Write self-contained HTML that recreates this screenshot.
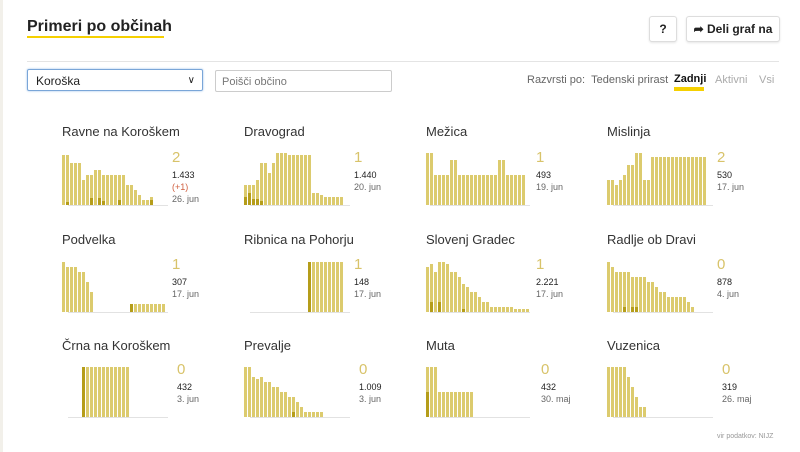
<!DOCTYPE html><html><head><meta charset="utf-8"><style>
body{margin:0;width:800px;height:452px;background:#fff;font-family:"Liberation Sans",sans-serif;overflow:hidden;position:relative}
.a{position:absolute}
.t{font-size:13px;color:#333}
.big{font-size:15px;color:#d8c36a}
.v{font-size:9px;color:#222}
.d{font-size:9px;color:#666}
.btn{border:1px solid #ddd;border-radius:3px;background:#fff;font-size:12px;font-weight:bold;color:#222;box-shadow:0 1px 2px rgba(0,0,0,.1)}
</style></head><body>
<div class="a" style="left:0;top:0;width:3px;height:452px;background:#f2f0ea"></div>
<div class="a" style="left:27px;top:18px;font-size:16px;font-weight:bold;color:#222">Primeri po občinah</div>
<div class="a" style="left:27px;top:36px;width:137px;height:2px;background:#f5d000"></div>
<div class="a btn" style="left:649px;top:16px;width:26px;height:24px;line-height:24px;text-align:center">?</div>
<div class="a btn" style="left:686px;top:16px;width:92px;height:24px;line-height:24px;text-align:center">➦ Deli graf na</div>
<div class="a" style="left:27px;top:61px;width:752px;height:1px;background:#e4e4e4"></div>
<div class="a" style="left:27px;top:69px;width:174px;height:22px;border:1px solid #7aa6d8;border-radius:2px;box-shadow:0 0 2px #9cc0ea;font-size:12px;line-height:22px;padding-left:8px;box-sizing:border-box;width:176px;color:#222">Koroška<span style="position:absolute;right:7px;font-size:10px">&#8744;</span></div>
<div class="a" style="left:215px;top:70px;width:177px;height:22px;border:1px solid #ccc;border-radius:2px;font-size:11px;line-height:22px;padding-left:6px;box-sizing:border-box;color:#777">Poišči občino</div>
<div class="a" style="left:527px;top:74px;font-size:11px;color:#666">Razvrsti po: &nbsp;Tedenski prirast</div>
<div class="a" style="left:674px;top:73px;font-size:11px;font-weight:bold;color:#111">Zadnji</div>
<div class="a" style="left:674px;top:87px;width:30px;height:4px;background:#f5d000"></div>
<div class="a" style="left:715px;top:74px;font-size:11px;color:#aaa">Aktivni</div>
<div class="a" style="left:759px;top:74px;font-size:11px;color:#aaa">Vsi</div>
<div class="a" style="left:717px;top:433px;font-size:7px;color:#999">vir podatkov: NIJZ</div>
<div id="c"></div>
<script>
var D=[
["Ravne na Koroškem","2","1.433","26. jun",[50,50,42,42,42,25,30,30,35,35,30,30,30,30,30,30,20,20,15,10,5,5,8],[0,3,0,0,0,0,0,7,0,7,4,0,0,0,5,0,0,0,0,0,0,0,5]],
["Dravograd","1","1.440","20. jun",[20,20,20,25,42,42,32,42,52,52,52,50,50,50,50,50,50,12,12,10,8,8,8,8,8],[8,12,6,6,4,0,0,0,0,0,0,0,0,0,0,0,0,0,0,0,0,0,0,0,0]],
["Mežica","1","493","19. jun",[52,52,30,30,30,30,45,45,30,30,30,30,30,30,30,30,30,30,45,45,30,30,30,30,30],[0,0,0,0,0,0,0,0,0,0,0,0,0,0,0,0,0,0,0,0,0,0,0,0,0]],
["Mislinja","2","530","17. jun",[25,25,20,25,30,40,40,52,52,25,25,48,48,48,48,48,48,48,48,48,48,48,48,48,48],[0,0,0,0,0,0,0,0,0,0,0,0,0,0,0,0,0,0,0,0,0,0,0,0,0]],
["Podvelka","1","307","17. jun",[50,45,45,45,40,40,30,20,0,0,0,0,0,0,0,0,0,8,8,8,8,8,8,8,8,8],[0,0,0,0,0,0,0,0,0,0,0,0,0,0,0,0,0,8,0,0,0,0,0,0,0,0]],
["Ribnica na Pohorju","1","148","17. jun",[0,0,0,0,0,0,0,0,0,0,0,0,0,0,0,0,50,50,50,50,50,50,50,50,50],[0,0,0,0,0,0,0,0,0,0,0,0,0,0,0,0,50,0,0,0,0,0,0,0,0]],
["Slovenj Gradec","1","2.221","17. jun",[45,48,40,50,50,48,40,40,35,28,25,20,20,15,10,10,5,5,5,5,5,5,3,3,3,3],[0,10,0,10,0,0,0,0,0,3,0,0,0,0,0,0,0,0,0,0,0,0,0,0,0,0]],
["Radlje ob Dravi","0","878","4. jun",[50,45,40,40,40,40,35,35,35,35,30,30,25,20,20,15,15,15,15,15,10,5],[0,0,0,0,5,0,5,5,0,0,0,0,0,0,0,0,0,0,0,0,0,0]],
["Črna na Koroškem","0","432","3. jun",[0,0,0,0,0,50,50,50,50,50,50,50,50,50,50,50,50],[0,0,0,0,0,50,0,0,0,0,0,0,0,0,0,0,0]],
["Prevalje","0","1.009","3. jun",[50,50,40,38,40,35,35,30,30,25,25,20,20,15,10,5,5,5,5,5],[0,0,0,0,0,0,0,0,0,0,0,0,5,0,0,0,0,0,0,0]],
["Muta","0","432","30. maj",[50,50,50,25,25,25,25,25,25,25,25,25],[25,0,0,0,0,0,0,0,0,0,0,0]],
["Vuzenica","0","319","26. maj",[50,50,50,50,50,40,30,20,10,10],[0,0,0,0,0,0,0,0,0,0]]];
var cx=[62,244,426,607],ty=[124,232,338],by=[205,312,417],h="";
D.forEach(function(d,i){var c=i%4,r=Math.floor(i/4),x=cx[c];
h+='<div class="a t" style="left:'+x+'px;top:'+ty[r]+'px">'+d[0]+'</div>';
h+='<div class="a" style="left:'+(c==2?x+4:x+6)+'px;top:'+by[r]+'px;width:100px;height:1px;background:#e2e2e2"></div>';
var off=0;
d[4].forEach(function(v,k){if(v>0){h+='<div class="a" style="left:'+(x+off+k*4)+'px;top:'+(by[r]-v)+'px;width:3px;height:'+v+'px;background:#dccb6e"></div>';
if(d[5][k])h+='<div class="a" style="left:'+(x+off+k*4)+'px;top:'+(by[r]-d[5][k])+'px;width:3px;height:'+d[5][k]+'px;background:#b59d1a"></div>';}});
var nx=x+110+(r==2?5:0);
h+='<div class="a big" style="left:'+nx+'px;top:'+(by[r]-56)+'px">'+d[1]+'</div>';
h+='<div class="a v" style="left:'+nx+'px;top:'+(by[r]-35)+'px">'+d[2]+'</div>';
if(i==0)h+='<div class="a" style="left:'+nx+'px;top:'+(by[r]-23)+'px;font-size:9px;color:#d06040">(+1)</div>';
h+='<div class="a d" style="left:'+nx+'px;top:'+(by[r]-(i==0?11:23))+'px">'+d[3]+'</div>';});
document.getElementById("c").innerHTML=h;
</script></body></html>
